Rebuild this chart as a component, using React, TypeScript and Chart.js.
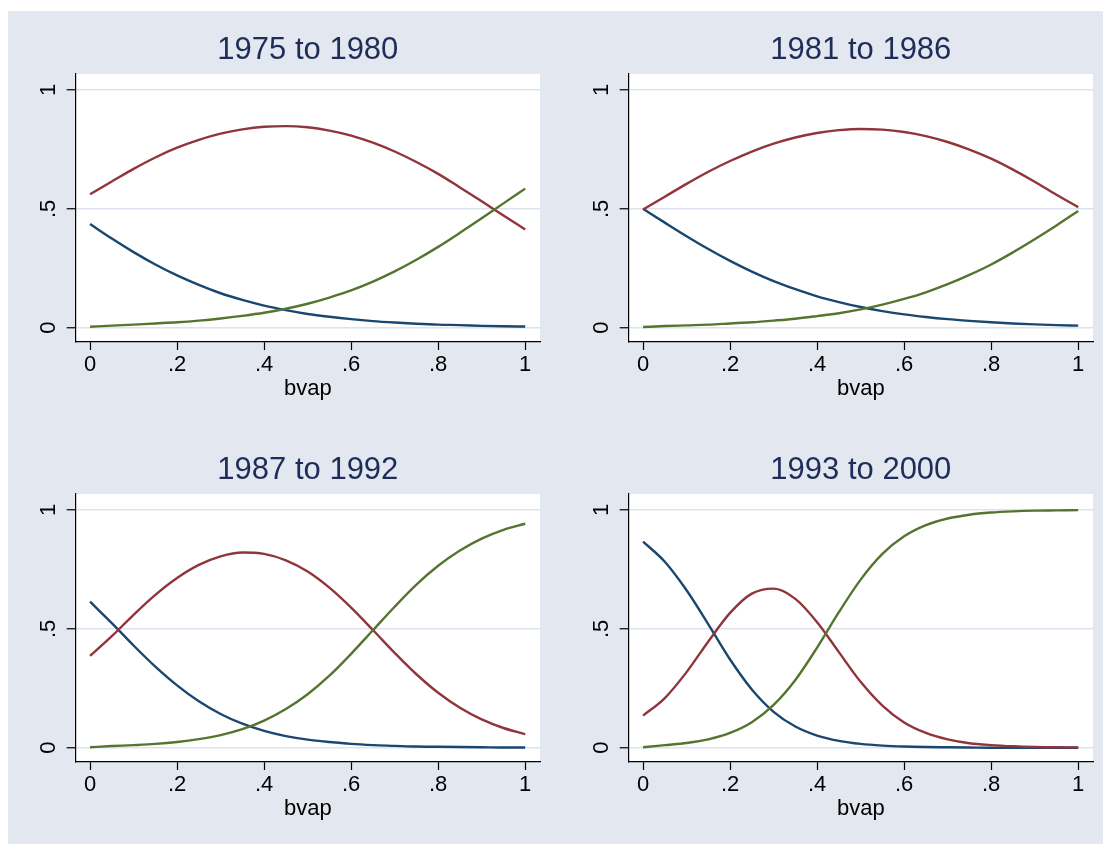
import { useEffect, useRef } from "react";
import { Chart, registerables } from "chart.js";

Chart.register(...registerables);

// Share of black voting-age population on the x axis
const BVAP = [0, 0.05, 0.1, 0.15, 0.2, 0.25, 0.3, 0.35, 0.4, 0.45, 0.5, 0.55, 0.6, 0.65, 0.7, 0.75, 0.8, 0.85, 0.9, 0.95, 1];

const X_TICKS = [0, 0.2, 0.4, 0.6, 0.8, 1];
const X_TICK_LABELS = ["0", ".2", ".4", ".6", ".8", "1"];
const Y_TICKS = [0, 0.5, 1];
const Y_TICK_LABELS = ["0", ".5", "1"];

const PERIODS = ["1975 to 1980", "1981 to 1986", "1987 to 1992", "1993 to 2000"];

// Predicted probabilities of each outcome, one list per period
const P1975_OUT0 = [0.436, 0.375, 0.318, 0.266, 0.22, 0.18, 0.145, 0.117, 0.093, 0.074, 0.058, 0.046, 0.036, 0.028, 0.022, 0.017, 0.013, 0.011, 0.008, 0.006, 0.005];
const P1975_OUT1 = [0.561, 0.615, 0.668, 0.716, 0.757, 0.79, 0.816, 0.834, 0.845, 0.848, 0.843, 0.829, 0.808, 0.778, 0.741, 0.697, 0.647, 0.59, 0.532, 0.472, 0.413];
const P1975_OUT2 = [0.004, 0.009, 0.013, 0.018, 0.023, 0.03, 0.039, 0.05, 0.063, 0.08, 0.101, 0.127, 0.157, 0.194, 0.237, 0.286, 0.34, 0.399, 0.46, 0.523, 0.585];

const P1981_OUT0 = [0.5, 0.442, 0.385, 0.331, 0.281, 0.236, 0.196, 0.162, 0.132, 0.108, 0.087, 0.07, 0.056, 0.045, 0.036, 0.029, 0.023, 0.018, 0.014, 0.011, 0.009];
const P1981_OUT1 = [0.497, 0.551, 0.605, 0.656, 0.701, 0.741, 0.774, 0.8, 0.819, 0.831, 0.836, 0.833, 0.823, 0.806, 0.781, 0.749, 0.711, 0.665, 0.614, 0.559, 0.507];
const P1981_OUT2 = [0.003, 0.007, 0.01, 0.013, 0.018, 0.023, 0.03, 0.038, 0.049, 0.061, 0.077, 0.097, 0.121, 0.149, 0.183, 0.222, 0.266, 0.317, 0.372, 0.43, 0.491];

const P1987_OUT0 = [0.614, 0.524, 0.43, 0.341, 0.262, 0.195, 0.142, 0.101, 0.071, 0.049, 0.034, 0.024, 0.016, 0.011, 0.008, 0.005, 0.004, 0.003, 0.002, 0.001, 0.001];
const P1987_OUT1 = [0.386, 0.469, 0.559, 0.643, 0.714, 0.769, 0.805, 0.821, 0.815, 0.788, 0.741, 0.673, 0.589, 0.495, 0.399, 0.309, 0.231, 0.168, 0.119, 0.083, 0.057];
const P1987_OUT2 = [0.002, 0.007, 0.011, 0.016, 0.024, 0.036, 0.053, 0.078, 0.114, 0.163, 0.225, 0.303, 0.395, 0.494, 0.593, 0.686, 0.765, 0.829, 0.879, 0.916, 0.942];

const P1993_OUT0 = [0.867, 0.782, 0.662, 0.519, 0.371, 0.245, 0.151, 0.089, 0.051, 0.029, 0.016, 0.009, 0.005, 0.003, 0.002, 0.001, 0, 0, 0, 0, 0];
const P1993_OUT1 = [0.135, 0.209, 0.318, 0.447, 0.567, 0.648, 0.669, 0.626, 0.528, 0.402, 0.277, 0.177, 0.106, 0.062, 0.035, 0.019, 0.011, 0.006, 0.003, 0.002, 0.001];
const P1993_OUT2 = [0.002, 0.011, 0.02, 0.035, 0.062, 0.107, 0.18, 0.285, 0.421, 0.57, 0.707, 0.815, 0.889, 0.936, 0.964, 0.98, 0.989, 0.994, 0.997, 0.998, 0.999];

const PANEL_SERIES = [
  [P1975_OUT0, P1975_OUT1, P1975_OUT2],
  [P1981_OUT0, P1981_OUT1, P1981_OUT2],
  [P1987_OUT0, P1987_OUT1, P1987_OUT2],
  [P1993_OUT0, P1993_OUT1, P1993_OUT2],
];

const LINE_COLORS = ["#1a476f", "#90353b", "#55752f"];
const BG = "#e2e7f0";
const GRID = "#dde3ee";
const TITLE_COLOR = "#1e2d58";
const FONT = "'Liberation Sans', Arial, Helvetica, sans-serif";

const CANVAS_W = 552;
const CANVAS_H = 409;

const plotBackground = {
  id: "plotBackground",
  beforeDraw(chart: any) {
    const { ctx, chartArea } = chart;
    ctx.save();
    ctx.fillStyle = "#ffffff";
    ctx.fillRect(chartArea.left, chartArea.top, chartArea.right - chartArea.left, chartArea.bottom - chartArea.top);
    ctx.restore();
  },
};

// Vertical axis labels, turned to read upward
const rotatedYLabels = {
  id: "rotatedYLabels",
  afterDraw(chart: any) {
    const { ctx, chartArea } = chart;
    const y = chart.scales.y;
    ctx.save();
    ctx.fillStyle = "#000000";
    ctx.font = `22px ${FONT}`;
    ctx.textAlign = "center";
    ctx.textBaseline = "alphabetic";
    Y_TICKS.forEach((v, i) => {
      ctx.save();
      ctx.translate(chartArea.left - 20.4, y.getPixelForValue(v));
      ctx.rotate(-Math.PI / 2);
      ctx.fillText(Y_TICK_LABELS[i], 0, 0);
      ctx.restore();
    });
    ctx.restore();
  },
};

function Panel({ index, left, top }: { index: number; left: number; top: number }) {
  const ref = useRef<HTMLCanvasElement>(null);

  useEffect(() => {
    if (!ref.current) return;
    const series = PANEL_SERIES[index];
    const chart = new Chart(ref.current, {
      type: "line",
      data: {
        datasets: series.map((vals, i) => ({
          data: BVAP.map((x, j) => ({ x, y: vals[j] })),
          borderColor: LINE_COLORS[i],
          borderWidth: 2.4,
          pointRadius: 0,
          fill: false,
          cubicInterpolationMode: "monotone" as const,
          order: 3 - i,
        })),
      },
      options: {
        responsive: false,
        animation: false,
        events: [],
        layout: { padding: { left: 0, top: 0, right: 20, bottom: 0 } },
        plugins: {
          legend: { display: false },
          tooltip: { enabled: false },
          title: {
            display: true,
            text: PERIODS[index],
            fullSize: false,
            color: TITLE_COLOR,
            font: { family: FONT, size: 31, weight: "normal" as const, lineHeight: 1.2 },
            padding: { top: 21.2, bottom: 4.6 },
          },
        },
        scales: {
          x: {
            type: "linear",
            min: -0.033,
            max: 1.034,
            afterBuildTicks: (s: any) => {
              s.ticks = X_TICKS.map((v) => ({ value: v }));
            },
            afterFit: (s: any) => {
              s.height = 78;
            },
            ticks: {
              autoSkip: false,
              maxRotation: 0,
              minRotation: 0,
              padding: 1.3,
              color: "#000000",
              font: { family: FONT, size: 22 },
              callback: (_v: any, i: number) => X_TICK_LABELS[i],
            },
            grid: {
              display: true,
              drawOnChartArea: false,
              drawTicks: true,
              tickLength: 8,
              tickColor: "#000000",
              tickWidth: 1.2,
            },
            border: { display: true, color: "#000000", width: 1.2 },
            title: {
              display: true,
              text: "bvap",
              color: "#000000",
              font: { family: FONT, size: 22 },
              padding: { top: 0, bottom: 17.8 },
            },
          },
          y: {
            type: "linear",
            min: -0.06,
            max: 1.067,
            afterBuildTicks: (s: any) => {
              s.ticks = Y_TICKS.map((v) => ({ value: v }));
            },
            afterFit: (s: any) => {
              s.width = 67.7;
            },
            ticks: { display: false },
            grid: {
              display: true,
              drawOnChartArea: true,
              drawTicks: true,
              tickLength: 9,
              color: GRID,
              lineWidth: 1.5,
              tickColor: "#000000",
              tickWidth: 1.2,
            },
            border: { display: true, color: "#000000", width: 1.2 },
          },
        },
      },
      plugins: [plotBackground, rotatedYLabels],
    });
    return () => chart.destroy();
  }, [index]);

  return (
    <canvas
      ref={ref}
      width={CANVAS_W}
      height={CANVAS_H}
      style={{ position: "absolute", left, top, width: CANVAS_W, height: CANVAS_H }}
    />
  );
}

export default function App() {
  return (
    <div style={{ position: "absolute", left: 0, top: 0, width: 1103, height: 844, overflow: "hidden", background: "#ffffff" }}>
      <div style={{ position: "absolute", left: 8, top: 11, width: 1095, height: 833, background: BG }} />
      <Panel index={0} left={8} top={11} />
      <Panel index={1} left={560.6} top={11} />
      <Panel index={2} left={8} top={431} />
      <Panel index={3} left={560.6} top={431} />
    </div>
  );
}
